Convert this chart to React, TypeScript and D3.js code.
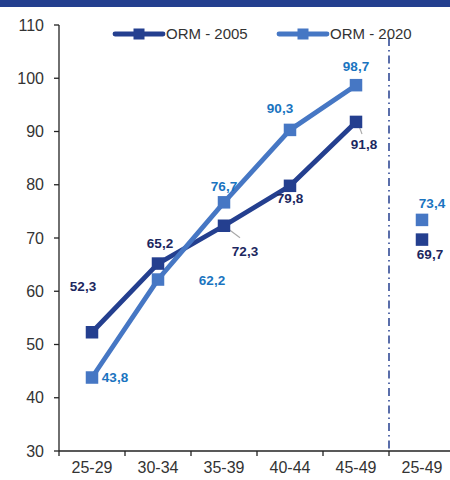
import React from "react";
import * as d3 from "d3";

const categories = ["25-29", "30-34", "35-39", "40-44", "45-49"];
const totalCategory = "25-49";
const orm2005 = [52.3, 65.2, 72.3, 79.8, 91.8];
const orm2020 = [43.8, 62.2, 76.7, 90.3, 98.7];
const orm2005Total = 69.7;
const orm2020Total = 73.4;
const yTicks = [30, 40, 50, 60, 70, 80, 90, 100, 110];
const seriesNames = ["ORM - 2005", "ORM - 2020"];

// label offsets (dx, dy) relative to point
const off2005 = [[-9, -46], [2, -20], [21, 26], [0, 12], [8, 22]];
const off2020 = [[23, 0], [54, 1], [0, -16], [-10, -22], [0, -19]];

const W = 450, H = 480;
const dark = "#243f8f";
const light = "#4677c4";
const darkLbl = "#1c2760";
const lightLbl = "#1a74c0";
const font = "'Liberation Sans', Arial, sans-serif";

export default function App() {
  const x = d3.scaleBand<string>().domain([...categories, totalCategory]).range([59, 455]).padding(0);
  const y = d3.scaleLinear().domain([30, 110]).range([451, 25]);
  const cx = (c: string) => (x(c) as number) + x.bandwidth() / 2;
  const line = d3.line<number>().x((_, i) => cx(categories[i])).y((d) => y(d));
  const fmt = (v: number) => v.toFixed(1).replace(".", ",");
  const ms = 12.5;
  const sepX = x(totalCategory) as number;

  const marker = (px: number, py: number, color: string, key: string) => (
    <rect key={key} x={px - ms / 2} y={py - ms / 2} width={ms} height={ms} fill={color} />
  );

  return (
    <svg width={W} height={H} style={{ position: "absolute", left: 0, top: 0, background: "#fff" }} fontFamily={font}>
      <rect x={0} y={0} width={W} height={7} fill={dark} />
      {/* y axis */}
      <line x1={59} x2={59} y1={y(110)} y2={y(30)} stroke="#222" strokeWidth={1.3} />
      {yTicks.map((t) => (
        <g key={t}>
          <line x1={54} x2={59} y1={y(t)} y2={y(t)} stroke="#222" strokeWidth={1.3} />
          <text x={44} y={y(t)} dy="0.35em" textAnchor="end" fontSize={16} fill="#333">{t}</text>
        </g>
      ))}
      {/* x axis */}
      <line x1={59} x2={W} y1={y(30)} y2={y(30)} stroke="#222" strokeWidth={1.3} />
      {[...categories, totalCategory].map((c) => (
        <g key={c}>
          <line x1={x(c) as number} x2={x(c) as number} y1={y(30)} y2={y(30) + 5} stroke="#222" strokeWidth={1.3} />
          <text x={cx(c)} y={y(30) + 22} textAnchor="middle" fontSize={16} fill="#333">{c}</text>
        </g>
      ))}
      {/* separator */}
      <line x1={sepX} x2={sepX} y1={38} y2={y(30)} stroke={dark} strokeWidth={1.5} strokeDasharray="8,4,1.5,4" />
      {/* lines */}
      <path d={line(orm2005) || ""} fill="none" stroke={dark} strokeWidth={4.8} />
      <path d={line(orm2020) || ""} fill="none" stroke={light} strokeWidth={4.8} />
      {/* leader lines */}
      <line x1={cx(categories[2]) + 4} y1={y(orm2005[2]) + 3} x2={cx(categories[2]) + 16} y2={y(orm2005[2]) + 12} stroke="#aaa" strokeWidth={1.2} />
      <line x1={cx(categories[4]) + 3} y1={y(orm2005[4]) + 4} x2={cx(categories[4]) + 6} y2={y(orm2005[4]) + 12} stroke="#aaa" strokeWidth={1.2} />
      {orm2005.map((v, i) => marker(cx(categories[i]), y(v), dark, "a" + i))}
      {orm2020.map((v, i) => marker(cx(categories[i]), y(v), light, "b" + i))}
      {marker(cx(totalCategory), y(orm2020Total), light, "bt")}
      {marker(cx(totalCategory), y(orm2005Total), dark, "at")}
      {/* labels */}
      {orm2005.map((v, i) => (
        <text key={"la" + i} x={cx(categories[i]) + off2005[i][0]} y={y(v) + off2005[i][1]} dy="0.35em" textAnchor="middle" fontSize={13.5} fontWeight="bold" fill={darkLbl}>{fmt(v)}</text>
      ))}
      {orm2020.map((v, i) => (
        <text key={"lb" + i} x={cx(categories[i]) + off2020[i][0]} y={y(v) + off2020[i][1]} dy="0.35em" textAnchor="middle" fontSize={13.5} fontWeight="bold" fill={lightLbl}>{fmt(v)}</text>
      ))}
      <text x={cx(totalCategory) + 10} y={y(orm2020Total) - 17} dy="0.35em" textAnchor="middle" fontSize={13.5} fontWeight="bold" fill={lightLbl}>{fmt(orm2020Total)}</text>
      <text x={cx(totalCategory) + 8} y={y(orm2005Total) + 15} dy="0.35em" textAnchor="middle" fontSize={13.5} fontWeight="bold" fill={darkLbl}>{fmt(orm2005Total)}</text>
      {/* legend */}
      {[dark, light].map((c, i) => {
        const lx = 115 + i * 164;
        return (
          <g key={"lg" + i}>
            <line x1={lx} x2={lx + 48} y1={34} y2={34} stroke={c} strokeWidth={4.8} strokeLinecap="round" />
            <rect x={lx + 24 - 5.5} y={34 - 5.5} width={11} height={11} fill={c} />
            <text x={lx + 51} y={34} dy="0.35em" fontSize={15} fill="#333">{seriesNames[i]}</text>
          </g>
        );
      })}
    </svg>
  );
}
